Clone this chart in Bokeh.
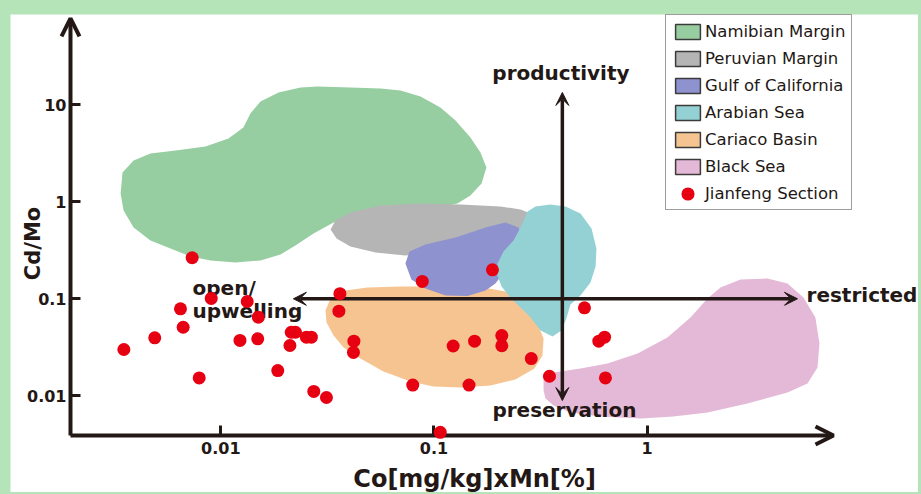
import numpy as np
from bokeh.plotting import figure
from bokeh.models import (Range1d, FixedTicker, CustomJSTickFormatter, Arrow, OpenHead,
                          VeeHead, Label, Legend, LegendItem, Spacer)
from bokeh.layouts import column, row
from bokeh.embed import file_html
from bokeh.resources import INLINE

# ---------------- data ----------------
X_TICKS = [0.01, 0.1, 1]
Y_TICKS = [0.01, 0.1, 1, 10]

# Jianfeng Section samples: Co[mg/kg] x Mn[%]  vs  Cd/Mo
JIANFENG_X = [0.00734, 0.00902, 0.0133, 0.00647, 0.0150, 0.0362, 0.0358, 0.00666, 0.00490,
              0.00351, 0.0123, 0.0149, 0.0214, 0.0224, 0.0211, 0.0252, 0.0266, 0.0421,
              0.0419, 0.0185, 0.00792, 0.0273, 0.0313, 0.0795, 0.107, 0.0881, 0.123,
              0.188, 0.155, 0.208, 0.208, 0.286, 0.146, 0.348, 0.508, 0.593, 0.631, 0.637]
JIANFENG_Y = [0.265, 0.101, 0.0938, 0.0789, 0.0646, 0.113, 0.0745, 0.0509, 0.0396,
              0.0300, 0.0372, 0.0387, 0.0452, 0.0452, 0.0330, 0.0402, 0.0402, 0.0366,
              0.0280, 0.0182, 0.0153, 0.0111, 0.0096, 0.0129, 0.0042, 0.151, 0.0326,
              0.199, 0.0366, 0.0418, 0.0328, 0.0242, 0.0129, 0.0159, 0.0807, 0.0366,
              0.0402, 0.0153]

# Reference fields (outlines given as log10 of the axis values)
NAMIBIAN_LOGX = [-2.470, -2.461, -2.409, -2.330, -2.212, -2.072, -1.964, -1.894, -1.861, -1.814,
                 -1.729, -1.626, -1.546, -1.392, -1.251, -1.157, -1.063, -0.970, -0.899, -0.829,
                 -0.782, -0.754, -0.777, -0.829, -0.890, -1.063, -1.251, -1.415, -1.471, -1.565,
                 -1.650, -1.720, -1.814, -1.931, -2.048, -2.142, -2.236, -2.330, -2.409, -2.456]
NAMIBIAN_LOGY = [0.086, 0.302, 0.426, 0.498, 0.529, 0.570, 0.653, 0.766, 0.910, 1.034,
                 1.127, 1.178, 1.189, 1.178, 1.168, 1.147, 1.086, 0.972, 0.838, 0.663,
                 0.508, 0.354, 0.189, 0.065, -0.018, -0.090, -0.131, -0.172, -0.213, -0.327,
                 -0.451, -0.543, -0.605, -0.626, -0.605, -0.564, -0.481, -0.399, -0.265, -0.090]

PERUVIAN_LOGX = [-1.485, -1.462, -1.392, -1.251, -1.063, -0.876, -0.688, -0.594, -0.524,
                 -0.500, -0.594, -0.782, -0.970, -1.134, -1.274, -1.392, -1.457]
PERUVIAN_LOGY = [-0.286, -0.193, -0.110, -0.038, -0.018, -0.028, -0.048, -0.079, -0.141,
                 -0.244, -0.347, -0.451, -0.523, -0.554, -0.523, -0.461, -0.378]

GULF_LOGX = [-1.134, -1.115, -1.040, -0.899, -0.758, -0.665, -0.604, -0.585,
             -0.618, -0.665, -0.712, -0.758, -0.843, -0.946, -1.040, -1.106]
GULF_LOGY = [-0.636, -0.512, -0.440, -0.368, -0.265, -0.213, -0.265, -0.378,
             -0.554, -0.708, -0.842, -0.914, -0.971, -0.966, -0.894, -0.801]

ARABIAN_LOGX = [-0.561, -0.524, -0.454, -0.383, -0.313, -0.261, -0.238, -0.242, -0.266,
                -0.313, -0.360, -0.379, -0.402, -0.444, -0.500, -0.547, -0.599, -0.646,
                -0.683, -0.702, -0.702, -0.674, -0.627, -0.594]
ARABIAN_LOGY = [-0.100, -0.048, -0.028, -0.048, -0.121, -0.275, -0.481, -0.667, -0.832,
                -0.966, -1.059, -1.203, -1.327, -1.389, -1.327, -1.193, -1.079, -0.976,
                -0.873, -0.760, -0.636, -0.512, -0.399, -0.265]

CARIACO_LOGX = [-1.509, -1.485, -1.415, -1.312, -1.157, -0.970, -0.768, -0.665, -0.594,
                -0.524, -0.486, -0.491, -0.529, -0.618, -0.735, -0.876, -1.002, -1.110,
                -1.237, -1.345, -1.424, -1.471, -1.504]
CARIACO_LOGY = [-1.121, -0.997, -0.914, -0.884, -0.873, -0.873, -0.884, -0.925, -1.018,
                -1.203, -1.409, -1.585, -1.719, -1.832, -1.894, -1.914, -1.904, -1.853,
                -1.749, -1.615, -1.502, -1.378, -1.244]

BLACKSEA_LOGX = [-0.486, -0.486, -0.439, -0.313, -0.186, -0.045, 0.095, 0.203, 0.283,
                 0.344, 0.438, 0.564, 0.658, 0.733, 0.789, 0.808, 0.799, 0.752, 0.658,
                 0.470, 0.283, 0.123, -0.031, -0.219, -0.360, -0.439, -0.477]
BLACKSEA_LOGY = [-1.945, -1.822, -1.760, -1.719, -1.667, -1.564, -1.399, -1.193, -0.997,
                 -0.884, -0.801, -0.791, -0.842, -0.987, -1.193, -1.461, -1.708, -1.873,
                 -1.966, -2.079, -2.172, -2.213, -2.234, -2.213, -2.172, -2.100, -2.028]

FIELD_NAMES = ["Namibian Margin", "Peruvian Margin", "Gulf of California",
               "Arabian Sea", "Cariaco Basin", "Black Sea"]
POINT_NAME = "Jianfeng Section"

# ---------------- styles ----------------
DARK = "#231815"
RED = "#e60012"
PAGE_GREEN = "#b4e4b7"
FIELD_COLORS = {
    "Namibian Margin": "#97cea1",
    "Peruvian Margin": "#b5b5b6",
    "Gulf of California": "#8e92cf",
    "Arabian Sea": "#93d1d4",
    "Cariaco Basin": "#f6c491",
    "Black Sea": "#e4b9d7",
}
FIELD_OUTLINES = {
    "Namibian Margin": (NAMIBIAN_LOGX, NAMIBIAN_LOGY),
    "Peruvian Margin": (PERUVIAN_LOGX, PERUVIAN_LOGY),
    "Gulf of California": (GULF_LOGX, GULF_LOGY),
    "Arabian Sea": (ARABIAN_LOGX, ARABIAN_LOGY),
    "Cariaco Basin": (CARIACO_LOGX, CARIACO_LOGY),
    "Black Sea": (BLACKSEA_LOGX, BLACKSEA_LOGY),
}
DRAW_ORDER = ["Namibian Margin", "Peruvian Margin", "Cariaco Basin",
              "Gulf of California", "Arabian Sea", "Black Sea"]

# visible window of the log-log diagram and where the two axes cross
X_START, X_END = 0.0010318, 18.734
Y_START, Y_END = 0.0010071, 85.28
X_AXIS_AT_Y = 0.003897
Y_AXIS_AT_X = 0.0019724

p = figure(width=908, height=478, x_axis_type="log", y_axis_type="log",
           x_range=Range1d(X_START, X_END), y_range=Range1d(Y_START, Y_END),
           output_backend="svg", toolbar_location=None,
           min_border=0, min_border_left=0, min_border_right=0,
           min_border_top=0, min_border_bottom=0,
           background_fill_color="white", border_fill_color="white",
           outline_line_color=None)
p.title.visible = False
p.grid.visible = False

p.xaxis[0].fixed_location = X_AXIS_AT_Y
p.yaxis[0].fixed_location = Y_AXIS_AT_X
for ax, ticks, standoff in ((p.xaxis[0], X_TICKS, 7), (p.yaxis[0], Y_TICKS, 4)):
    ax.ticker = FixedTicker(ticks=ticks)
    ax.formatter = CustomJSTickFormatter(code="return String(tick);")
    ax.axis_line_color = None
    ax.major_tick_in = 10
    ax.major_tick_out = 0
    ax.major_tick_line_width = 3
    ax.major_tick_line_color = DARK
    ax.minor_tick_line_color = None
    ax.major_label_standoff = standoff
    ax.major_label_text_font = "DejaVu Sans"
    ax.major_label_text_font_style = "bold"
    ax.major_label_text_font_size = "16px"
    ax.major_label_text_color = DARK

# fields
for name in DRAW_ORDER:
    lx, ly = FIELD_OUTLINES[name]
    p.patch(x=10 ** np.array(lx), y=10 ** np.array(ly),
            fill_color=FIELD_COLORS[name], fill_alpha=1.0, line_color=None)

# axes drawn as arrows
p.add_layout(Arrow(x_start=Y_AXIS_AT_X, y_start=X_AXIS_AT_Y, x_end=Y_AXIS_AT_X, y_end=77.6,
                   line_color=DARK, line_width=4,
                   end=OpenHead(size=18, line_width=4, line_color=DARK)))
p.add_layout(Arrow(x_start=Y_AXIS_AT_X, y_start=X_AXIS_AT_Y, x_end=7.48, y_end=X_AXIS_AT_Y,
                   line_color=DARK, line_width=4,
                   end=OpenHead(size=18, line_width=4, line_color=DARK)))

# cross-hair double arrows
CROSS_X, CROSS_Y = 0.4, 0.1
for xs, ys, xe, ye in ((CROSS_X, 13.4, CROSS_X, 0.00894), (0.0219, CROSS_Y, 5.07, CROSS_Y)):
    p.add_layout(Arrow(x_start=xs, y_start=ys, x_end=xe, y_end=ye,
                       line_color=DARK, line_width=3.5,
                       start=VeeHead(size=13, fill_color=DARK, line_color=DARK, line_width=1),
                       end=VeeHead(size=13, fill_color=DARK, line_color=DARK, line_width=1)))

# samples
pts = p.scatter(x=JIANFENG_X, y=JIANFENG_Y, marker="circle", size=13,
                fill_color=RED, line_color=None, level="overlay")

# texts
def add_label(x, y, text, size, align="left", baseline="alphabetic", angle=0.0):
    p.add_layout(Label(x=x, y=y, text=text, angle=angle, text_align=align,
                       text_baseline=baseline, text_font="DejaVu Sans",
                       text_font_style="bold", text_font_size=size, text_color=DARK))

add_label(0.394, 21.5, "productivity", "20px", align="center")
add_label(0.409, 0.00722, "preservation", "20px", align="center")
add_label(5.59, 0.1107, "restricted", "20px")
add_label(0.00737, 0.1286, "open/", "20px")
add_label(0.00737, 0.0752, "upwelling", "20px")
add_label(0.155, 0.001372, "Co[mg/kg]xMn[%]", "24px", align="center")
add_label(0.00131, 0.3716, "Cd/Mo", "21px", align="center", baseline="middle", angle=np.pi / 2)

# legend (swatch renderers carry a single NaN row so they show only in the legend)
items = []
for name in FIELD_NAMES:
    r = p.quad(left=[np.nan], right=[np.nan], top=[np.nan], bottom=[np.nan],
               fill_color=FIELD_COLORS[name], line_color="#3e3a39", line_width=1.5)
    items.append(LegendItem(label=name, renderers=[r]))
dot = p.scatter(x=[np.nan], y=[np.nan], marker="circle", size=8, fill_color=RED,
                line_color=RED, line_width=5.5)
items.append(LegendItem(label=POINT_NAME, renderers=[dot]))

legend = Legend(items=items, location=(655, 282), orientation="vertical",
                border_line_color="#3e3a39", border_line_width=1.5,
                background_fill_color="white", background_fill_alpha=1.0,
                padding=6, spacing=7, margin=0,
                glyph_width=31, glyph_height=19, label_height=20, label_standoff=2,
                label_text_font="DejaVu Sans", label_text_font_size="16.5px",
                label_text_color=DARK)
p.add_layout(legend)

layout = column(Spacer(width=918, height=14), row(Spacer(width=10, height=478), p))

html = file_html(layout, INLINE, title="Cd/Mo vs Co x Mn")
style = "<style>html, body { background-color: %s !important; }</style>" % PAGE_GREEN
if "</head>" in html:
    html = html.replace("</head>", style + "</head>", 1)
open("out.html", "w").write(html)
